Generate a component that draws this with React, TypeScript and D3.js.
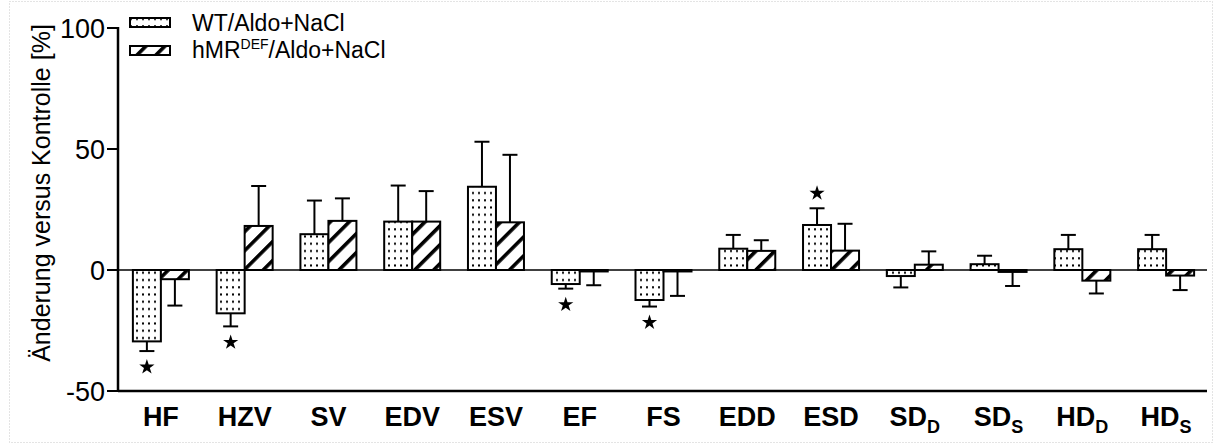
import React from "react";
import * as d3 from "d3";

// Change of echocardiographic parameters versus control (%), mean ± SEM
const categories = ["HF", "HZV", "SV", "EDV", "ESV", "EF", "FS", "EDD", "ESD", "SD_D", "SD_S", "HD_D", "HD_S"];
const wtValues = [-29.5, -17.9, 14.8, 20.0, 34.4, -5.8, -12.4, 8.8, 18.6, -2.5, 2.4, 8.6, 8.6];
const wtErrors = [4.0, 5.4, 13.9, 14.9, 18.6, 1.9, 2.7, 5.7, 6.9, 4.7, 3.5, 5.9, 5.9];
const hmrValues = [-3.8, 18.2, 20.3, 20.0, 19.7, -0.6, -0.6, 7.9, 8.0, 2.2, -0.8, -4.4, -2.3];
const hmrErrors = [10.9, 16.5, 9.3, 12.6, 27.9, 5.7, 10.1, 4.4, 11.1, 5.5, 5.8, 5.3, 6.0];
const wtSignificant = [true, true, false, false, false, true, true, false, true, false, false, false, false];
const yTicks = [-50, 0, 50, 100];
const seriesNames = ["WT/Aldo+NaCl", "hMR/Aldo+NaCl"];

const W = 1215;
const H = 445;
const FONT = "'Liberation Sans', Arial, Helvetica, sans-serif";

const y = d3.scaleLinear().domain([-50, 100]).range([391, 28]);
const x0 = d3.scaleBand<string>().domain(categories).range([119, 1208]).paddingInner(0).paddingOuter(0);
const groupWidth = 56;
const x1 = d3.scaleBand<string>().domain(["wt", "hmr"]).range([0, groupWidth]);
const starPath = d3.symbol().type(d3.symbolStar).size(72)() as string;

type Bar = { key: string; cat: string; value: number; err: number; fill: string; sig: boolean };

const bars: Bar[] = [];
categories.forEach((c, i) => {
  bars.push({ key: "wt", cat: c, value: wtValues[i], err: wtErrors[i], fill: "url(#dots)", sig: wtSignificant[i] });
  bars.push({ key: "hmr", cat: c, value: hmrValues[i], err: hmrErrors[i], fill: "url(#hatch)", sig: false });
});

function CategoryLabel({ name, cx }: { name: string; cx: number }) {
  const [main, sub] = name.split("_");
  return (
    <text x={cx} y={426} textAnchor="middle" fontFamily={FONT} fontWeight="bold" fontSize={27} fill="#000">
      {main}
      {sub ? (
        <tspan fontSize={18} dy={7}>
          {sub}
        </tspan>
      ) : null}
    </text>
  );
}

export default function App() {
  const y0 = y(0);
  return (
    <svg width={W} height={H} style={{ position: "absolute", left: 0, top: 0, background: "#fff" }}>
      <defs>
        <pattern id="dots" patternUnits="userSpaceOnUse" width={6} height={7.25} x={1} y={0.5}>
          <rect width={6} height={7.25} fill="#fff" />
          <rect x={3} y={3} width={2} height={2} fill="#000" />
        </pattern>
        <pattern id="hatch" patternUnits="userSpaceOnUse" width={13.4} height={13.4} patternTransform="rotate(45)">
          <rect width={13.4} height={13.4} fill="#fff" />
          <rect x={0} y={0} width={3.6} height={13.4} fill="#000" />
        </pattern>
      </defs>

      {/* outer frame */}
      <rect x={9.5} y={1.5} width={1203} height={441} fill="none" stroke="#c8c8c8" strokeWidth={1} strokeDasharray="1,2" />

      {/* zero line */}
      <line x1={118} x2={1207} y1={y0} y2={y0} stroke="#000" strokeWidth={1.5} />

      {/* bars */}
      {bars.map((b, i) => {
        const bx = (x0(b.cat) as number) + (x0.bandwidth() - groupWidth) / 2 + (x1(b.key) as number);
        const bw = x1.bandwidth();
        const top = y(Math.max(0, b.value));
        const bottom = y(Math.min(0, b.value));
        const end = b.value >= 0 ? y(b.value + b.err) : y(b.value - b.err);
        const start = b.value >= 0 ? top : bottom;
        const cx = bx + bw / 2;
        const starY = b.value >= 0 ? end - 15 : end + 16;
        return (
          <g key={i}>
            <rect x={bx} y={top} width={bw} height={Math.max(0.5, bottom - top)} fill={b.fill} stroke="#000" strokeWidth={2} />
            <line x1={cx} x2={cx} y1={start} y2={end} stroke="#000" strokeWidth={2} />
            <line x1={cx - 7.5} x2={cx + 7.5} y1={end} y2={end} stroke="#000" strokeWidth={2} />
            {b.sig ? <path d={starPath} transform={`translate(${cx},${starY})`} fill="#000" /> : null}
          </g>
        );
      })}

      {/* axes */}
      <line x1={118} x2={118} y1={y(100) - 1} y2={y(-50) + 1} stroke="#000" strokeWidth={2.5} />
      <line x1={118} x2={1207} y1={y(-50)} y2={y(-50)} stroke="#000" strokeWidth={2.5} />
      {yTicks.map((t) => (
        <g key={t}>
          <line x1={107} x2={118} y1={y(t)} y2={y(t)} stroke="#000" strokeWidth={2} />
          <text x={105} y={y(t)} dy="0.36em" textAnchor="end" fontFamily={FONT} fontSize={27} fill="#000">
            {t}
          </text>
        </g>
      ))}
      <text
        transform={`translate(50,193) rotate(-90)`}
        textAnchor="middle"
        fontFamily={FONT}
        fontSize={25}
        fill="#000"
      >
        Änderung versus Kontrolle [%]
      </text>

      {categories.map((c) => (
        <CategoryLabel key={c} name={c} cx={(x0(c) as number) + x0.bandwidth() / 2} />
      ))}

      {/* legend */}
      <g>
        <rect x={130} y={18} width={40} height={9} fill="url(#dots)" stroke="#000" strokeWidth={2} />
        <text x={192} y={31} fontFamily={FONT} fontSize={23} fill="#000">
          {seriesNames[0]}
        </text>
        <rect x={130} y={46} width={40} height={9} fill="url(#hatch)" stroke="#000" strokeWidth={2} />
        <text x={192} y={58} fontFamily={FONT} fontSize={23} fill="#000">
          {seriesNames[1].split("/")[0]}
          <tspan fontSize={14} dy={-9}>
            DEF
          </tspan>
          <tspan dy={9}>/{seriesNames[1].split("/")[1]}</tspan>
        </text>
      </g>
    </svg>
  );
}
